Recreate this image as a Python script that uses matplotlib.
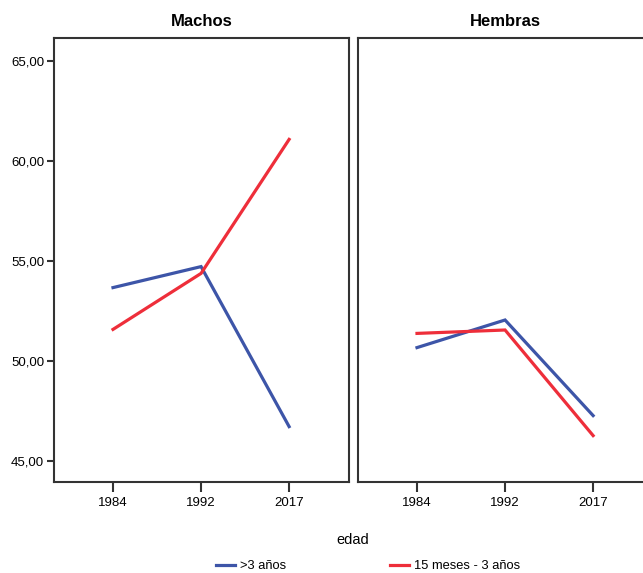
import matplotlib

matplotlib.use("Agg")
import matplotlib.pyplot as plt

plt.rcParams["font.family"] = ["Liberation Sans", "DejaVu Sans"]

# values
years = ["1984", "1992", "2017"]
panels = ["Machos", "Hembras"]
series_names = [">3 años", "15 meses - 3 años"]
colors = ["#3d55a8", "#ee2e3a"]

machos_mayor3 = [53.67, 54.72, 46.72]
machos_15m3 = [51.58, 54.38, 61.08]
hembras_mayor3 = [50.67, 52.05, 47.27]
hembras_15m3 = [51.38, 51.55, 46.27]

yticks = [45, 50, 55, 60, 65]
panel_data = [(machos_mayor3, machos_15m3), (hembras_mayor3, hembras_15m3)]

W, H = 643, 573
fig = plt.figure(figsize=(W / 100, H / 100), dpi=100)

frame_color = "#333333"
axes = []
for i, left_px in enumerate([54, 358]):
    ax = fig.add_axes([left_px / W, (H - 482) / H, 295 / W, 444 / H])
    axes.append(ax)
    x = range(len(years))
    for vals, color, name in zip(panel_data[i], colors, series_names):
        ax.plot(x, vals, color=color, lw=2.3, label=name, solid_joinstyle="miter")
    ax.set_xlim(-0.67, 2.68)
    ax.set_ylim(43.95, 66.15)
    ax.set_xticks(list(x))
    ax.set_xticklabels(years, fontsize=9.5)
    ax.set_title(panels[i], fontsize=12, fontweight="bold", pad=9)
    for sp in ax.spines.values():
        sp.set_color(frame_color)
        sp.set_linewidth(1.5)
    ax.tick_params(axis="x", length=7, width=1.5, color=frame_color, pad=4)
    if i == 0:
        ax.set_yticks(yticks)
        ax.set_yticklabels([f"{v:.2f}".replace(".", ",") for v in yticks], fontsize=9.5)
        ax.tick_params(axis="y", length=5, width=1.5, color=frame_color, pad=2)
    else:
        ax.set_yticks([])

fig.text(353 / W, 1 - 540 / H, "edad", ha="center", va="center", fontsize=10.5)

handles, labels = axes[0].get_legend_handles_labels()
fig.legend(handles, labels, loc="center", bbox_to_anchor=(368 / W, 1 - 566 / H),
           ncol=2, frameon=False, fontsize=9.3, handlelength=1.5,
           handletextpad=0.4, columnspacing=8.0)

fig.savefig("out.png", dpi=100)
plt.close(fig)
